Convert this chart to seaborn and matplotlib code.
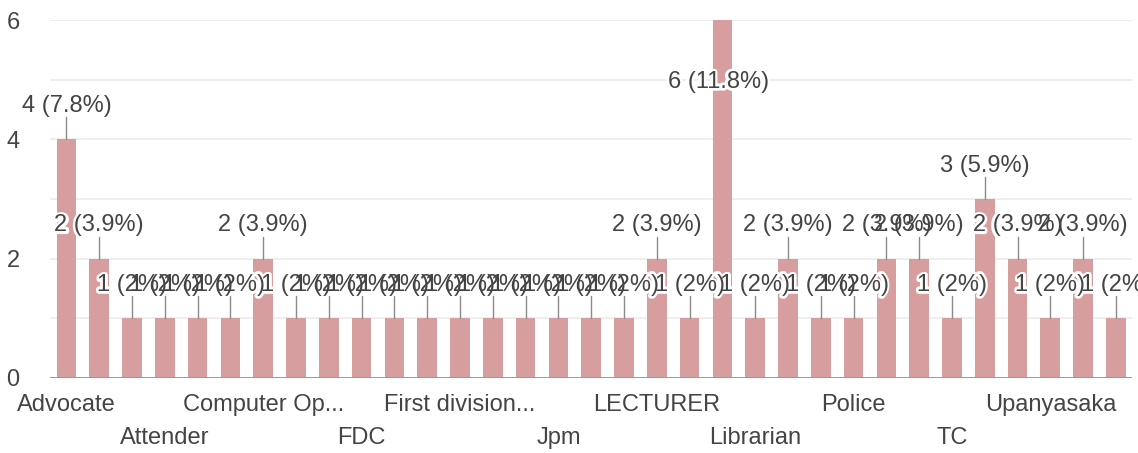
import pandas as pd
import matplotlib.pyplot as plt
import matplotlib.patheffects as pe
from matplotlib.ticker import MultipleLocator
import seaborn as sns

# responses per occupation (33 bars, total 51)
counts = [4, 2, 1, 1, 1, 1, 2, 1, 1, 1, 1, 1, 1, 1, 1, 1, 1, 1,
          2, 1, 6, 1, 2, 1, 1, 2, 2, 1, 3, 2, 1, 2, 1]
# only every third category name is shown on the axis
tick_idx = [0, 3, 6, 9, 12, 15, 18, 21, 24, 27, 30]
tick_names = ['Advocate', 'Attender', 'Computer Op...', 'FDC', 'First division...',
              'Jpm', 'LECTURER', 'Librarian', 'Police', 'TC', 'Upanyasaka']

bar_color = '#d69e9e'
text_color = '#444444'

df = pd.DataFrame({'idx': range(len(counts)), 'count': counts})
total = sum(counts)

sns.set_theme(style='white')
plt.rcParams['font.family'] = ['Liberation Sans', 'DejaVu Sans']

fig = plt.figure(figsize=(11.38, 4.53), dpi=100)
ax = fig.add_axes([0.044, 0.1656, 0.951, 0.790])

sns.barplot(data=df, x='idx', y='count', color=bar_color, saturation=1,
            width=0.6, linewidth=0, ax=ax, zorder=2)

ax.set_xlim(-0.5, len(counts) - 0.5)
ax.set_ylim(0, 6)
ax.set_yticks([0, 2, 4, 6])
ax.yaxis.set_minor_locator(MultipleLocator(1))
ax.grid(axis='y', which='both', color='#ebebeb', lw=1.2, zorder=0)
ax.axhline(0, color='#9a9a9a', lw=1.4, zorder=3)
for s in ax.spines.values():
    s.set_visible(False)
ax.tick_params(axis='y', which='both', length=0, pad=22, labelsize=17, labelcolor=text_color)
ax.set_xticks([])
ax.set_xlabel('')
ax.set_ylabel('')

# category names in two staggered rows
for k, (i, name) in enumerate(zip(tick_idx, tick_names)):
    dy = -19.5 if k % 2 == 0 else -43
    ax.annotate(name, xy=(i, 0), xycoords=('data', 'axes fraction'), xytext=(0, dy),
                textcoords='offset points', ha='center', va='center',
                fontsize=17, color=text_color, annotation_clip=False)

# value labels "n (p%)" with leader lines, halos drawn first so texts overlap
labels = []
for i, v in enumerate(counts):
    p = f'{100 * v / total:.1f}'.rstrip('0').rstrip('.')
    txt = f'{v} ({p}%)'
    if v + 0.8 > 6:
        # no room above the tallest bar: label goes inside it
        off = (-3, -44.5)
        line = False
    else:
        off = (0, 24)
        line = True
    labels.append((i, v, txt, off, line))

for i, v, txt, off, line in labels:
    if line:
        ax.plot([i, i], [v, v + 0.37], color='#8a8a8a', lw=1, zorder=3)
    t = ax.annotate(txt, xy=(i, v), xytext=off, textcoords='offset points',
                    ha='center', va='center', fontsize=17, color='white',
                    zorder=4, annotation_clip=False)
    t.set_path_effects([pe.withStroke(linewidth=4, foreground='white')])

for i, v, txt, off, line in labels:
    ax.annotate(txt, xy=(i, v), xytext=off, textcoords='offset points',
                ha='center', va='center', fontsize=17, color=text_color,
                zorder=5, annotation_clip=False)

fig.savefig('out.png', dpi=100)
